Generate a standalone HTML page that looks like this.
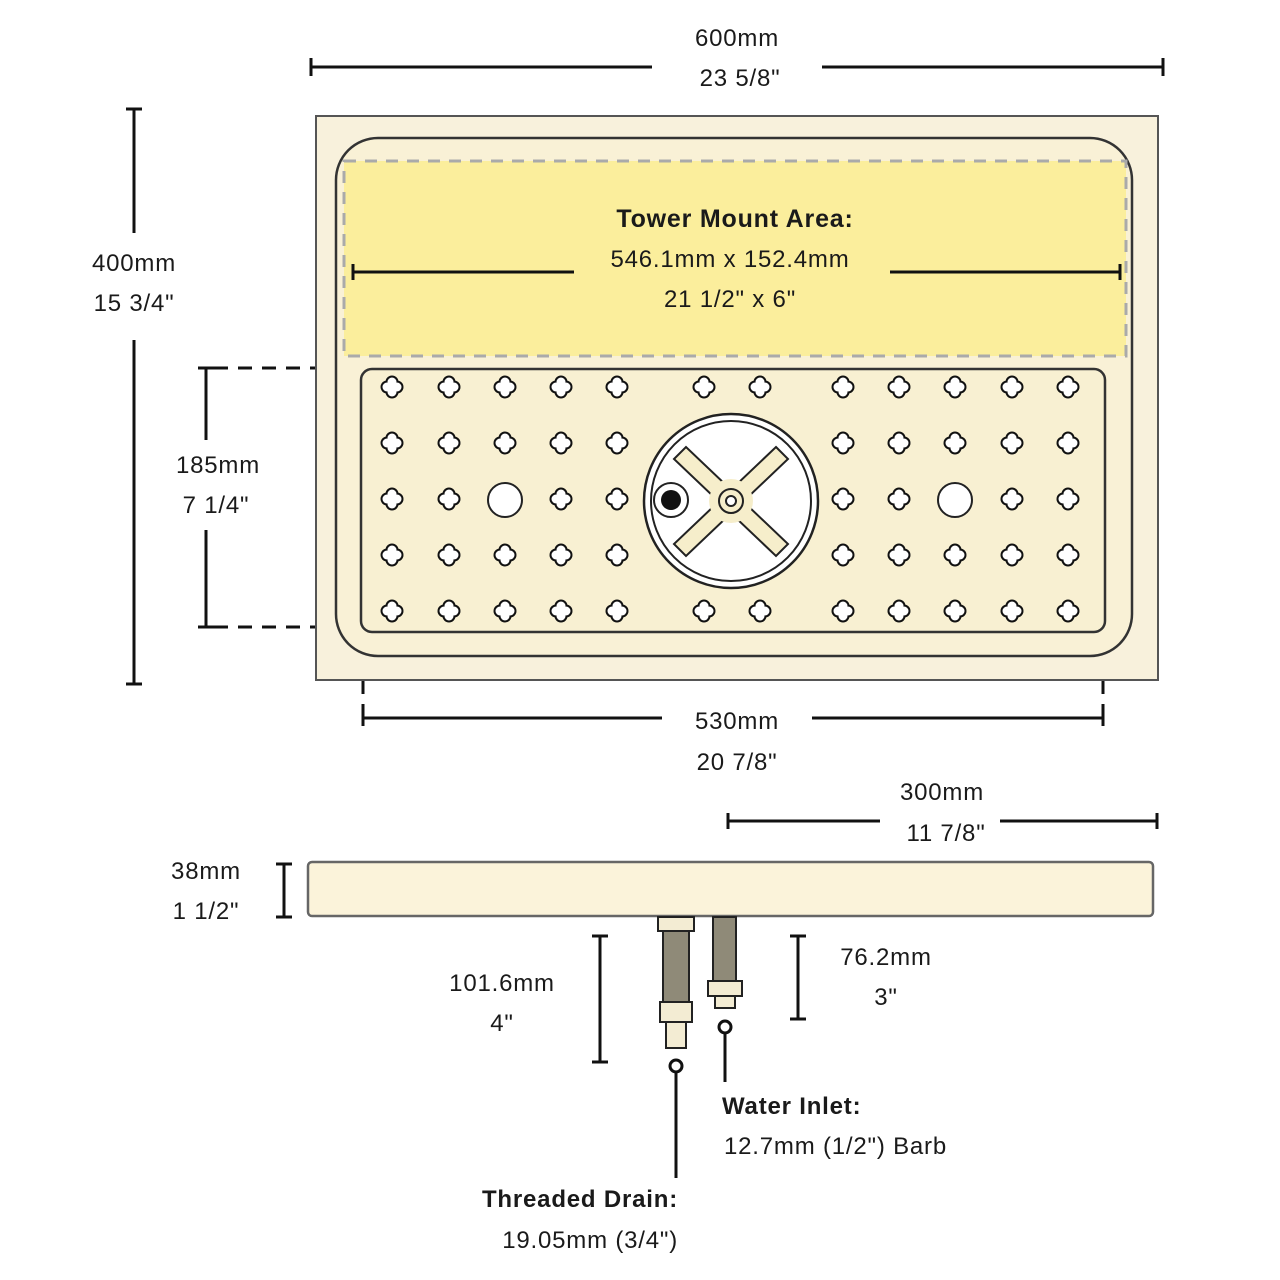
<!DOCTYPE html><html><head><style>body{margin:0;background:#fff}svg{display:block}text{font-family:"Liberation Sans",sans-serif;fill:#1a1a1a;letter-spacing:0.8px}</style></head><body>
<svg width="1280" height="1280" viewBox="0 0 1280 1280">
<defs>
<g id="c"><circle cx="-5" cy="0" r="6.5" fill="#111"/><circle cx="5" cy="0" r="6.5" fill="#111"/><circle cx="0" cy="-5" r="6.5" fill="#111"/><circle cx="0" cy="5" r="6.5" fill="#111"/>
<circle cx="-5" cy="0" r="4.5" fill="#fff"/><circle cx="5" cy="0" r="4.5" fill="#fff"/><circle cx="0" cy="-5" r="4.5" fill="#fff"/><circle cx="0" cy="5" r="4.5" fill="#fff"/><circle r="5" fill="#fff"/></g>
</defs>
<g stroke="#111" stroke-width="3" fill="none">
<line x1="311" y1="67" x2="652" y2="67"/><line x1="822" y1="67" x2="1163" y2="67"/>
<line x1="311" y1="58" x2="311" y2="76"/><line x1="1163" y1="58" x2="1163" y2="76"/>
<line x1="134" y1="109" x2="134" y2="233"/><line x1="134" y1="340" x2="134" y2="684"/>
<line x1="126" y1="109" x2="142" y2="109"/><line x1="126" y1="684" x2="142" y2="684"/>
<line x1="206" y1="368" x2="206" y2="440"/><line x1="206" y1="530" x2="206" y2="627"/>
<line x1="198" y1="368" x2="214" y2="368"/><line x1="198" y1="627" x2="214" y2="627"/>
<line x1="214" y1="368" x2="360" y2="368" stroke-dasharray="14,10"/>
<line x1="214" y1="627" x2="360" y2="627" stroke-dasharray="14,10"/>
<line x1="363" y1="632" x2="363" y2="718" stroke-dasharray="14,10"/>
<line x1="1103" y1="632" x2="1103" y2="718" stroke-dasharray="14,10"/>
<line x1="363" y1="718" x2="662" y2="718"/><line x1="812" y1="718" x2="1103" y2="718"/>
<line x1="363" y1="710" x2="363" y2="726"/><line x1="1103" y1="710" x2="1103" y2="726"/>
<line x1="728" y1="821" x2="880" y2="821"/><line x1="1000" y1="821" x2="1157" y2="821"/>
<line x1="728" y1="813" x2="728" y2="829"/><line x1="1157" y1="813" x2="1157" y2="829"/>
<line x1="284" y1="864" x2="284" y2="917"/><line x1="276" y1="864" x2="292" y2="864"/><line x1="276" y1="917" x2="292" y2="917"/>
<line x1="600" y1="936" x2="600" y2="1062"/><line x1="592" y1="936" x2="608" y2="936"/><line x1="592" y1="1062" x2="608" y2="1062"/>
<line x1="798" y1="936" x2="798" y2="1019"/><line x1="790" y1="936" x2="806" y2="936"/><line x1="790" y1="1019" x2="806" y2="1019"/>
</g>
<rect x="316" y="116" width="842" height="564" fill="#f8f1dc" stroke="#555" stroke-width="2"/>
<rect x="336" y="138" width="796" height="518" rx="42" fill="#f9f1d6" stroke="#333" stroke-width="2.5"/>
<rect x="344" y="161" width="782" height="195" fill="#fbee9c" stroke="#aaa" stroke-width="3" stroke-dasharray="12,9"/>
<g stroke="#111" stroke-width="3"><line x1="353" y1="272" x2="574" y2="272"/><line x1="890" y1="272" x2="1120" y2="272"/><line x1="353" y1="264" x2="353" y2="280"/><line x1="1120" y1="264" x2="1120" y2="280"/></g>
<text x="735" y="227" text-anchor="middle" font-size="25" font-weight="bold">Tower Mount Area:</text>
<text x="730" y="267" text-anchor="middle" font-size="24">546.1mm x 152.4mm</text>
<text x="730" y="307" text-anchor="middle" font-size="24">21 1/2" x 6"</text>
<rect x="361" y="369" width="744" height="263" rx="11" fill="#f8f0d2" stroke="#333" stroke-width="2.5"/>
<g>
<use href="#c" x="392" y="387"/><use href="#c" x="449" y="387"/><use href="#c" x="505" y="387"/><use href="#c" x="561" y="387"/><use href="#c" x="617" y="387"/><use href="#c" x="704" y="387"/><use href="#c" x="760" y="387"/><use href="#c" x="843" y="387"/><use href="#c" x="899" y="387"/><use href="#c" x="955" y="387"/><use href="#c" x="1012" y="387"/><use href="#c" x="1068" y="387"/>
<use href="#c" x="392" y="443"/><use href="#c" x="449" y="443"/><use href="#c" x="505" y="443"/><use href="#c" x="561" y="443"/><use href="#c" x="617" y="443"/><use href="#c" x="843" y="443"/><use href="#c" x="899" y="443"/><use href="#c" x="955" y="443"/><use href="#c" x="1012" y="443"/><use href="#c" x="1068" y="443"/>
<use href="#c" x="392" y="499"/><use href="#c" x="449" y="499"/><use href="#c" x="561" y="499"/><use href="#c" x="617" y="499"/><use href="#c" x="843" y="499"/><use href="#c" x="899" y="499"/><use href="#c" x="1012" y="499"/><use href="#c" x="1068" y="499"/>
<use href="#c" x="392" y="555"/><use href="#c" x="449" y="555"/><use href="#c" x="505" y="555"/><use href="#c" x="561" y="555"/><use href="#c" x="617" y="555"/><use href="#c" x="843" y="555"/><use href="#c" x="899" y="555"/><use href="#c" x="955" y="555"/><use href="#c" x="1012" y="555"/><use href="#c" x="1068" y="555"/>
<use href="#c" x="392" y="611"/><use href="#c" x="449" y="611"/><use href="#c" x="505" y="611"/><use href="#c" x="561" y="611"/><use href="#c" x="617" y="611"/><use href="#c" x="704" y="611"/><use href="#c" x="760" y="611"/><use href="#c" x="843" y="611"/><use href="#c" x="899" y="611"/><use href="#c" x="955" y="611"/><use href="#c" x="1012" y="611"/><use href="#c" x="1068" y="611"/>
</g>
<circle cx="505" cy="500" r="17" fill="#fff" stroke="#222" stroke-width="2"/>
<circle cx="955" cy="500" r="17" fill="#fff" stroke="#222" stroke-width="2"/>
<circle cx="731" cy="501" r="87" fill="#fff" stroke="#222" stroke-width="2.5"/>
<circle cx="731" cy="501" r="80" fill="#fff" stroke="#222" stroke-width="2"/>
<g stroke="#222" stroke-width="2" fill="#f6eecb">
<polygon points="674,459 686,447 788,544 776,556"/>
<polygon points="776,447 788,459 686,556 674,544"/>
<circle cx="731" cy="501" r="22" stroke="none"/>
<circle cx="731" cy="501" r="12" fill="#f6eecb"/><circle cx="731" cy="501" r="5" fill="#fff"/>
</g>
<circle cx="671" cy="500" r="17" fill="#fff" stroke="#222" stroke-width="2"/>
<circle cx="671" cy="500" r="10" fill="#111"/>
<rect x="308" y="862" width="845" height="54" rx="4" fill="#fbf3da" stroke="#666" stroke-width="2.5"/>
<g stroke="#222" stroke-width="2">
<rect x="658" y="917" width="36" height="14" fill="#f3ecd3"/>
<rect x="663" y="931" width="26" height="72" fill="#8f8a78"/>
<rect x="660" y="1002" width="32" height="20" fill="#f3ecd3"/>
<rect x="666" y="1022" width="20" height="26" fill="#f3ecd3"/>
<rect x="713" y="917" width="23" height="64" fill="#8f8a78"/>
<rect x="708" y="981" width="34" height="15" fill="#f3ecd3"/>
<rect x="715" y="996" width="20" height="12" fill="#f3ecd3"/>
</g>
<g stroke="#111" stroke-width="3" fill="#fff">
<line x1="676" y1="1073" x2="676" y2="1178"/><circle cx="676" cy="1066" r="6"/>
<line x1="725" y1="1034" x2="725" y2="1082"/><circle cx="725" cy="1027" r="6"/>
</g>
<g font-size="24" text-anchor="middle">
<text x="737" y="46">600mm</text><text x="740" y="86">23 5/8"</text>
<text x="134" y="271">400mm</text><text x="134" y="311">15 3/4"</text>
<text x="218" y="473">185mm</text><text x="216" y="513">7 1/4"</text>
<text x="737" y="729">530mm</text><text x="737" y="770">20 7/8"</text>
<text x="942" y="800">300mm</text><text x="946" y="841">11 7/8"</text>
<text x="206" y="879">38mm</text><text x="206" y="919">1 1/2"</text>
<text x="502" y="991">101.6mm</text><text x="502" y="1031">4"</text>
<text x="886" y="965">76.2mm</text><text x="886" y="1005">3"</text>
</g>
<text x="722" y="1114" font-size="24" font-weight="bold">Water Inlet:</text>
<text x="724" y="1154" font-size="24">12.7mm (1/2") Barb</text>
<text x="678" y="1207" font-size="24" font-weight="bold" text-anchor="end">Threaded Drain:</text>
<text x="678" y="1248" font-size="24" text-anchor="end">19.05mm (3/4")</text>
</svg>
</body></html>
